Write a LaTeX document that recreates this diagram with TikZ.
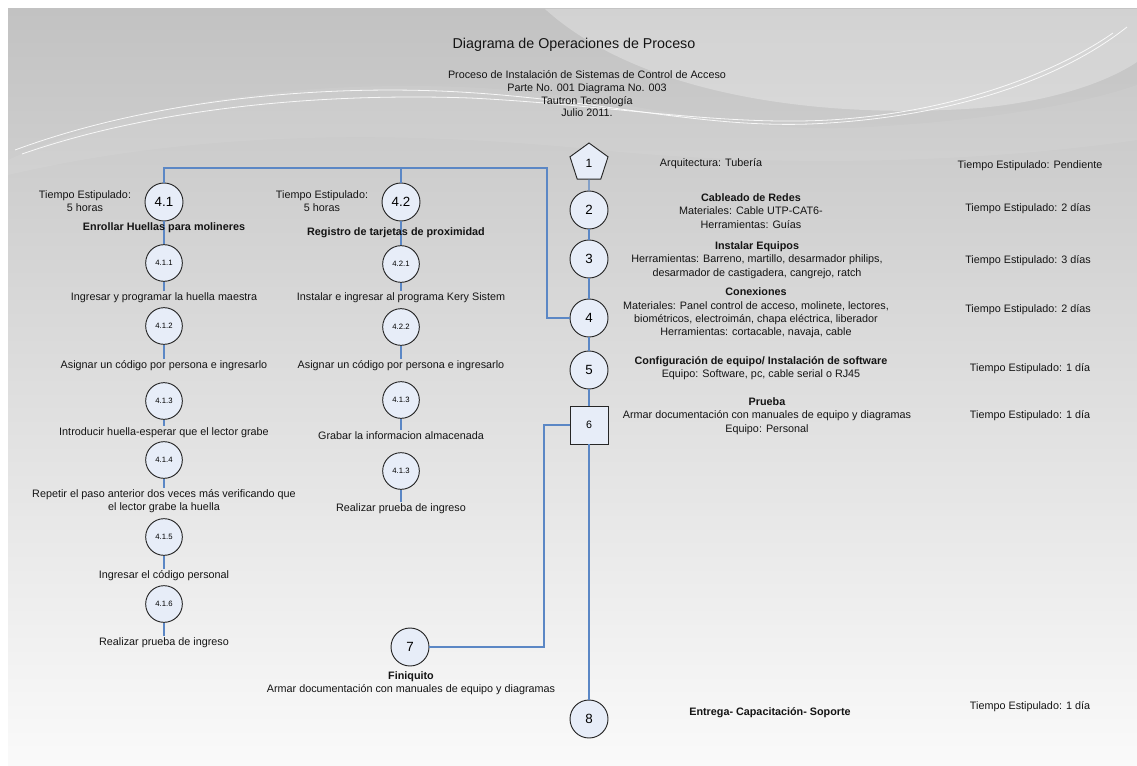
\documentclass[tikz,border=0pt]{standalone}
\usepackage{fontspec}
\setmainfont{Liberation Sans}
\usetikzlibrary{shapes.geometric}
\definecolor{lineblue}{HTML}{5B87C5}
\definecolor{nodefill}{HTML}{E7EDF8}
\definecolor{bgtop}{HTML}{C2C2C2}
\definecolor{bgmid}{HTML}{D8D8D8}
\definecolor{bgbot}{HTML}{FAFAFA}
\begin{document}
\begin{tikzpicture}[x=0.75pt,y=-0.75pt,
  txt/.style={font=\fontsize{8.1}{10}\selectfont, align=center, inner sep=1pt, text=black!92},
  ttl/.style={font=\fontsize{10.7}{13}\selectfont, align=center, inner sep=0pt, text=black!92},
  opc/.style={circle, draw=black!85, fill=nodefill, line width=0.7pt, minimum size=28.5pt, inner sep=0pt, font=\fontsize{10}{12}\selectfont},
  opcs/.style={opc, minimum size=27.5pt, font=\fontsize{5.8}{7}\selectfont},
  insp/.style={rectangle, draw=black!85, fill=nodefill, line width=0.7pt, minimum size=28.5pt, inner sep=0pt, font=\fontsize{8}{10}\selectfont},
  start/.style={regular polygon, regular polygon sides=5, draw=black!85, fill=nodefill, line width=0.7pt, minimum size=30pt, inner sep=0pt, font=\fontsize{9}{11}\selectfont},
  conn/.style={draw=lineblue, line width=1pt},
  swoosh/.style={draw=white, line width=0.6pt, opacity=0.85}]
\useasboundingbox (0,0) rectangle (1137,766);
% background
\shade[top color=bgtop, middle color=bgmid, bottom color=bgbot] (8,9) rectangle (1137,766);
\fill[white, opacity=0.28] (545,9) .. controls (640,95) and (820,120) .. (980,108) .. controls (1060,100) and (1110,80) .. (1137,62) -- (1137,9) -- cycle;
\fill[white, opacity=0.07] (8,160) .. controls (150,95) and (330,80) .. (480,88) .. controls (620,96) and (720,132) .. (850,128) .. controls (980,122) and (1080,105) .. (1137,85) -- (1137,140) .. controls (1000,160) and (800,170) .. (600,150) .. controls (400,130) and (200,130) .. (8,175) -- cycle;
\draw[swoosh] (15,150) .. controls (150,100) and (320,84) .. (460,92) .. controls (600,100) and (700,128) .. (810,124) .. controls (950,118) and (1060,80) .. (1127,27);
\draw[swoosh] (22,154) .. controls (160,106) and (330,93) .. (470,98) .. controls (610,105) and (720,126) .. (830,120) .. controls (960,112) and (1060,70) .. (1113,33);

% titles
\node[ttl] (title) at (574,45) {Diagrama de Operaciones de Proceso};
\node[txt, font=\fontsize{8.1}{9.5}\selectfont] (sub) at (587,94) {Proceso de Instalación de Sistemas de Control de Acceso\\Parte No. 001 Diagrama No. 003\\Tautron Tecnología\\Julio 2011.};

% main column
\node[start] (n1) at (589,163) {1};
\node[opc] (n2) at (589,210) {2};
\node[opc] (n3) at (589,259) {3};
\node[opc] (n4) at (589,318) {4};
\node[opc] (n5) at (589,370) {5};
\node[insp] (n6) at (589,425) {6};
\node[opc] (n7) at (410,647) {7};
\node[opc] (n8) at (589,719) {8};

% branch 4.1
\node[opc] (c41) at (164,202) {4.1};
\node[opcs] (c411) at (164,263) {4.1.1};
\node[opcs] (c412) at (164,326) {4.1.2};
\node[opcs] (c413) at (164,401) {4.1.3};
\node[opcs] (c414) at (164,460) {4.1.4};
\node[opcs] (c415) at (164,537) {4.1.5};
\node[opcs] (c416) at (164,604) {4.1.6};
% branch 4.2
\node[opc] (c42) at (401,202) {4.2};
\node[opcs] (c421) at (401,264) {4.2.1};
\node[opcs] (c422) at (401,327) {4.2.2};
\node[opcs] (c423) at (401,400) {4.1.3};
\node[opcs] (c424) at (401,471) {4.1.3};

% connectors
\coordinate (jr) at (547,168);
\coordinate (jb) at (544,425);
\draw[conn] (c41.north) |- (jr) |- (n4.west);
\draw[conn] (c42.north) -- (c42.north |- jr);
\draw[conn] (n1.south) -- (n2.north);
\draw[conn] (n2.south) -- (n3.north);
\draw[conn] (n3.south) -- (n4.north);
\draw[conn] (n4.south) -- (n5.north);
\draw[conn] (n5.south) -- (n6.north);
\draw[conn] (n6.south) -- (n8.north);
\draw[conn] (n7.east) -| (jb) -- (n6.west);
\draw[conn] (c41.south) -- (c411.north);
\draw[conn] (c42.south) -- (c421.north);

% texts branch 4.1
\node[txt] (te41) at (85,201) {Tiempo Estipulado:\\5 horas};
\node[txt, font=\fontsize{8.1}{10}\selectfont\bfseries] (h41) at (164,228) {Enrollar Huellas para molineres};
\node[txt] (t411) at (164,298) {Ingresar y programar la huella maestra};
\node[txt] (t412) at (164,366) {Asignar un código por persona e ingresarlo};
\node[txt] (t413) at (164,433) {Introducir huella-esperar que el lector grabe};
\node[txt] (t414) at (164,501) {Repetir el paso anterior dos veces más verificando que\\el lector grabe la huella};
\node[txt] (t415) at (164,576) {Ingresar el código personal};
\node[txt] (t416) at (164,643) {Realizar prueba de ingreso};
% texts branch 4.2
\node[txt] (te42) at (322,201) {Tiempo Estipulado:\\5 horas};
\node[txt, font=\fontsize{8.1}{10}\selectfont\bfseries] (h42) at (396,233) {Registro de tarjetas de proximidad};
\node[txt] (t421) at (401,298) {Instalar e ingresar al programa Kery Sistem};
\node[txt] (t422) at (401,366) {Asignar un código por persona e ingresarlo};
\node[txt] (t423) at (401,436) {Grabar la informacion almacenada};
\node[txt] (t424) at (401,509) {Realizar prueba de ingreso};

% stubs from circles to their texts
\draw[conn] (c411.south) -- (t411.north);
\draw[conn] (c412.south) -- (t412.north);
\draw[conn] (c413.south) -- (t413.north);
\draw[conn] (c414.south) -- (t414.north);
\draw[conn] (c415.south) -- (t415.north);
\draw[conn] (c416.south) -- (t416.north);
\draw[conn] (c421.south) -- (t421.north);
\draw[conn] (c422.south) -- (t422.north);
\draw[conn] (c423.south) -- (t423.north);
\draw[conn] (c424.south) -- (t424.north);

% texts main column
\node[txt] (d1) at (711,164) {Arquitectura: Tubería};
\node[txt] (d2) at (751,211) {\textbf{Cableado de Redes}\\Materiales: Cable UTP-CAT6-\\Herramientas: Guías};
\node[txt] (d3) at (757,260) {\textbf{Instalar Equipos}\\Herramientas: Barreno, martillo, desarmador philips,\\desarmador de castigadera, cangrejo, ratch};
\node[txt] (d4) at (756,313) {\textbf{Conexiones}\\Materiales: Panel control de acceso, molinete, lectores,\\biométricos, electroimán, chapa eléctrica, liberador\\Herramientas: cortacable, navaja, cable};
\node[txt] (d5) at (761,368) {\textbf{Configuración de equipo/ Instalación de software}\\Equipo: Software, pc, cable serial o RJ45};
\node[txt] (d6) at (767,416) {\textbf{Prueba}\\Armar documentación con manuales de equipo y diagramas\\Equipo: Personal};
\node[txt] (d7) at (411,683) {\textbf{Finiquito}\\Armar documentación con manuales de equipo y diagramas};
\node[txt, font=\fontsize{8.1}{10}\selectfont\bfseries] (d8) at (770,713) {Entrega- Capacitación- Soporte};

\node[txt] (e1) at (1030,166) {Tiempo Estipulado: Pendiente};
\node[txt] (e2) at (1028,209) {Tiempo Estipulado: 2 días};
\node[txt] (e3) at (1028,261) {Tiempo Estipulado: 3 días};
\node[txt] (e4) at (1028,310) {Tiempo Estipulado: 2 días};
\node[txt] (e5) at (1030,369) {Tiempo Estipulado: 1 día};
\node[txt] (e6) at (1030,416) {Tiempo Estipulado: 1 día};
\node[txt] (e8) at (1030,707) {Tiempo Estipulado: 1 día};
\end{tikzpicture}
\end{document}
